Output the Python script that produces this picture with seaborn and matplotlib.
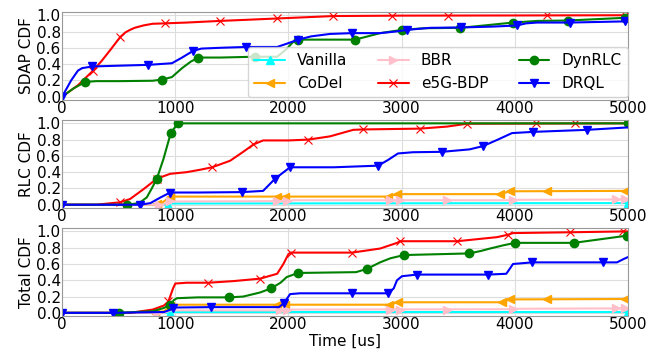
import matplotlib
matplotlib.use("Agg")
import matplotlib.pyplot as plt
from matplotlib.lines import Line2D
import seaborn as sns

# ---------------------------------------------------------------- series
METHODS = ["Vanilla", "CoDel", "BBR", "e5G-BDP", "DynRLC", "DRQL"]
COLORS = ["cyan", "orange", "pink", "red", "green", "blue"]
MARKERS = ["^", "<", ">", "x", "o", "v"]
X_TICKS = [0, 1000, 2000, 3000, 4000, 5000]
Y_TICKS = [0.0, 0.2, 0.4, 0.6, 0.8, 1.0]
PANEL_LABELS = ["SDAP CDF", "RLC CDF", "Total CDF"]

# --- SDAP delay CDF
sdap_e5g_x = [0, 140, 274, 350, 424, 512, 560, 600, 640, 720, 800, 910, 1100, 1395, 1650, 1900, 2150, 2400, 3000, 4000, 5000]
sdap_e5g_y = [0, 0.14, 0.32, 0.44, 0.57, 0.73, 0.79, 0.82, 0.845, 0.875, 0.895, 0.90, 0.91, 0.93, 0.945, 0.96, 0.975, 0.99, 0.995, 0.997, 1.0]
sdap_e5g_mx = [274, 512, 910, 1395, 1900, 2394, 2915, 3410, 4284, 4973]
sdap_e5g_my = [0.32, 0.73, 0.90, 0.93, 0.96, 0.99, 0.995, 0.995, 0.997, 1.0]

sdap_dyn_x = [0, 100, 203, 300, 500, 800, 886, 970, 1060, 1137, 1204, 1400, 1700, 1900, 1980, 2040, 2085, 2300, 2588, 2700, 2810, 3003, 3200, 3516, 3700, 3985, 4200, 4470, 5000]
sdap_dyn_y = [0, 0.10, 0.18, 0.19, 0.19, 0.195, 0.21, 0.24, 0.35, 0.43, 0.48, 0.48, 0.49, 0.49, 0.58, 0.67, 0.70, 0.70, 0.70, 0.74, 0.78, 0.82, 0.84, 0.845, 0.87, 0.91, 0.93, 0.935, 0.97]
sdap_dyn_mx = [203, 886, 1204, 1705, 2085, 2588, 3003, 3516, 3985, 4470, 4973]
sdap_dyn_my = [0.18, 0.21, 0.48, 0.49, 0.70, 0.70, 0.82, 0.845, 0.91, 0.935, 0.97]

sdap_drql_x = [0, 80, 140, 177, 265, 500, 760, 970, 1060, 1155, 1230, 1400, 1625, 1900, 1985, 2085, 2200, 2367, 2562, 2810, 2950, 3047, 3250, 3525, 3800, 3958, 4020, 4100, 4196, 4488, 5000]
sdap_drql_y = [0, 0.20, 0.32, 0.35, 0.37, 0.38, 0.39, 0.41, 0.48, 0.56, 0.59, 0.60, 0.61, 0.61, 0.65, 0.70, 0.74, 0.77, 0.78, 0.78, 0.80, 0.82, 0.845, 0.85, 0.86, 0.87, 0.875, 0.90, 0.91, 0.91, 0.925]
sdap_drql_mx = [0, 265, 760, 1155, 1625, 2085, 2562, 3047, 3525, 4020, 4488, 4973]
sdap_drql_my = [0, 0.37, 0.39, 0.56, 0.61, 0.70, 0.78, 0.82, 0.85, 0.875, 0.91, 0.925]

# --- RLC delay CDF
rlc_van_x = [0, 900, 960, 5000]
rlc_van_y = [0, 0, 0.015, 0.02]
rlc_van_mx = [936, 5000]
rlc_van_my = [0.0, 0.02]

rlc_codel_x = [0, 800, 880, 955, 2880, 2960, 3870, 3958, 5000]
rlc_codel_y = [0, 0, 0.02, 0.10, 0.10, 0.13, 0.13, 0.165, 0.17]
rlc_codel_mx = [837, 955, 1900, 1970, 2880, 2960, 3870, 3958, 4285, 4973]
rlc_codel_my = [0.01, 0.10, 0.10, 0.10, 0.10, 0.13, 0.13, 0.165, 0.165, 0.17]

rlc_bbr_x = [0, 880, 955, 1990, 2050, 3940, 3984, 5000]
rlc_bbr_y = [0, 0, 0.04, 0.045, 0.055, 0.055, 0.06, 0.065]
rlc_bbr_mx = [860, 955, 1900, 1990, 2897, 2986, 3400, 3984, 4894, 4973]
rlc_bbr_my = [0.0, 0.04, 0.045, 0.045, 0.055, 0.055, 0.055, 0.06, 0.065, 0.065]

rlc_e5g_x = [0, 300, 512, 600, 718, 837, 955, 1100, 1220, 1325, 1484, 1600, 1690, 1776, 2000, 2175, 2367, 2572, 2660, 3163, 3400, 3578, 5000]
rlc_e5g_y = [0, 0, 0.03, 0.07, 0.19, 0.32, 0.38, 0.40, 0.43, 0.46, 0.54, 0.65, 0.74, 0.79, 0.79, 0.80, 0.84, 0.92, 0.925, 0.935, 0.96, 0.995, 1.0]
rlc_e5g_mx = [512, 837, 1325, 1690, 2175, 2660, 3163, 3578, 4187, 4532]
rlc_e5g_my = [0.03, 0.32, 0.46, 0.74, 0.80, 0.925, 0.935, 0.995, 1.0, 1.0]

rlc_dyn_x = [0, 573, 680, 748, 792, 837, 895, 960, 1022, 5000]
rlc_dyn_y = [0, 0, 0.02, 0.09, 0.20, 0.32, 0.56, 0.88, 1.0, 1.0]
rlc_dyn_mx = [573, 837, 960, 1022, 5000]
rlc_dyn_my = [0, 0.32, 0.88, 1.0, 1.0]

rlc_drql_x = [0, 689, 780, 870, 955, 1200, 1590, 1776, 1882, 2014, 2400, 2792, 2880, 2968, 3100, 3357, 3600, 3719, 3850, 3975, 4161, 4638, 5000]
rlc_drql_y = [0, 0, 0.02, 0.09, 0.15, 0.15, 0.155, 0.17, 0.32, 0.46, 0.46, 0.48, 0.55, 0.63, 0.645, 0.65, 0.68, 0.72, 0.80, 0.88, 0.895, 0.92, 0.95]
rlc_drql_mx = [0, 689, 955, 1590, 1882, 2014, 2792, 3357, 3719, 4161, 4638]
rlc_drql_my = [0, 0, 0.15, 0.155, 0.32, 0.46, 0.48, 0.65, 0.72, 0.895, 0.92]

# --- total delay CDF
tot_van_x = [0, 940, 1000, 5000]
tot_van_y = [0, 0, 0.01, 0.01]
tot_van_mx = [955, 5000]
tot_van_my = [0.0, 0.01]

tot_codel_x = [0, 780, 900, 972, 1000, 2889, 2968, 3887, 3958, 5000]
tot_codel_y = [0, 0, 0.02, 0.09, 0.10, 0.10, 0.13, 0.13, 0.165, 0.17]
tot_codel_mx = [822, 955, 1900, 1970, 2889, 2968, 3887, 3958, 4285, 4973]
tot_codel_my = [0.0, 0.09, 0.10, 0.10, 0.10, 0.13, 0.13, 0.165, 0.165, 0.17]

tot_bbr_x = [0, 900, 960, 1925, 2000, 3940, 3984, 5000]
tot_bbr_y = [0, 0, 0.03, 0.03, 0.04, 0.045, 0.05, 0.055]
tot_bbr_mx = [837, 1925, 1990, 2897, 2986, 3400, 3984, 4894, 4973]
tot_bbr_my = [0.0, 0.03, 0.035, 0.04, 0.04, 0.04, 0.05, 0.055, 0.055]

tot_e5g_x = [0, 600, 800, 900, 939, 980, 1000, 1100, 1292, 1513, 1749, 1900, 1955, 1999, 2020, 2562, 2810, 2960, 2986, 3490, 3843, 3940, 3984, 4488, 4956, 5000]
tot_e5g_y = [0, 0, 0.04, 0.09, 0.14, 0.30, 0.36, 0.37, 0.37, 0.39, 0.42, 0.48, 0.60, 0.72, 0.74, 0.74, 0.79, 0.86, 0.88, 0.88, 0.93, 0.96, 0.98, 0.99, 1.0, 1.0]
tot_e5g_mx = [939, 1292, 1749, 2020, 2562, 2986, 3490, 3940, 4488, 4956]
tot_e5g_my = [0.14, 0.37, 0.42, 0.74, 0.74, 0.88, 0.88, 0.96, 0.99, 1.0]

tot_dyn_x = [0, 504, 800, 900, 954, 990, 1016, 1200, 1476, 1600, 1749, 1846, 1930, 1985, 2085, 2597, 2694, 2809, 2900, 3021, 3596, 3700, 3781, 3900, 4002, 4523, 5000]
tot_dyn_y = [0, 0, 0.02, 0.06, 0.10, 0.16, 0.18, 0.19, 0.19, 0.20, 0.25, 0.30, 0.37, 0.44, 0.49, 0.50, 0.54, 0.62, 0.67, 0.71, 0.73, 0.76, 0.79, 0.83, 0.86, 0.86, 0.95]
tot_dyn_mx = [504, 954, 1476, 1846, 2085, 2694, 3021, 3596, 4002, 4523, 4991]
tot_dyn_my = [0, 0.10, 0.19, 0.30, 0.49, 0.54, 0.71, 0.73, 0.86, 0.86, 0.95]

tot_drql_x = [0, 450, 900, 960, 981, 1316, 1916, 1961, 2014, 2100, 2880, 2930, 2959, 3003, 3136, 3763, 3925, 3960, 3984, 4152, 4779, 4903, 4960, 5000]
tot_drql_y = [0, 0, 0.01, 0.04, 0.065, 0.07, 0.07, 0.12, 0.23, 0.24, 0.24, 0.30, 0.40, 0.45, 0.47, 0.47, 0.48, 0.55, 0.60, 0.62, 0.62, 0.62, 0.66, 0.685]
tot_drql_mx = [0, 450, 981, 1316, 1961, 2562, 2880, 3136, 3763, 4152, 4779]
tot_drql_my = [0, 0, 0.065, 0.07, 0.12, 0.24, 0.24, 0.47, 0.47, 0.62, 0.62]

# method index -> (line x, line y, marker x, marker y) for each panel
sdap_series = {
    3: (sdap_e5g_x, sdap_e5g_y, sdap_e5g_mx, sdap_e5g_my),
    4: (sdap_dyn_x, sdap_dyn_y, sdap_dyn_mx, sdap_dyn_my),
    5: (sdap_drql_x, sdap_drql_y, sdap_drql_mx, sdap_drql_my),
}
rlc_series = {
    0: (rlc_van_x, rlc_van_y, rlc_van_mx, rlc_van_my),
    1: (rlc_codel_x, rlc_codel_y, rlc_codel_mx, rlc_codel_my),
    2: (rlc_bbr_x, rlc_bbr_y, rlc_bbr_mx, rlc_bbr_my),
    3: (rlc_e5g_x, rlc_e5g_y, rlc_e5g_mx, rlc_e5g_my),
    4: (rlc_dyn_x, rlc_dyn_y, rlc_dyn_mx, rlc_dyn_my),
    5: (rlc_drql_x, rlc_drql_y, rlc_drql_mx, rlc_drql_my),
}
tot_series = {
    0: (tot_van_x, tot_van_y, tot_van_mx, tot_van_my),
    1: (tot_codel_x, tot_codel_y, tot_codel_mx, tot_codel_my),
    2: (tot_bbr_x, tot_bbr_y, tot_bbr_mx, tot_bbr_my),
    3: (tot_e5g_x, tot_e5g_y, tot_e5g_mx, tot_e5g_my),
    4: (tot_dyn_x, tot_dyn_y, tot_dyn_mx, tot_dyn_my),
    5: (tot_drql_x, tot_drql_y, tot_drql_mx, tot_drql_my),
}

# ---------------------------------------------------------------- style
sns.set_style("whitegrid", {"axes.edgecolor": "#999999", "grid.color": "#dddddd",
                            "axes.linewidth": 1.0})
plt.rcParams["font.family"] = ["DejaVu Sans"]
plt.rcParams["font.size"] = 11
plt.rcParams["text.color"] = "black"
plt.rcParams["axes.labelcolor"] = "black"
plt.rcParams["xtick.color"] = "black"
plt.rcParams["ytick.color"] = "black"

fig, axes = plt.subplots(3, 1, figsize=(6.61, 3.52), dpi=100)
fig.subplots_adjust(left=0.094, right=0.950, top=0.966, bottom=0.102, hspace=0.23)


def marker_kw(i):
    if MARKERS[i] == "x":
        return dict(marker="x", markersize=6, markeredgewidth=0.8)
    return dict(marker=MARKERS[i], markersize=6)


for ax, series, ylabel in zip(axes, [sdap_series, rlc_series, tot_series], PANEL_LABELS):
    for i in range(len(METHODS)):
        if i not in series:
            continue
        lx, ly, mx, my = series[i]
        sns.lineplot(x=lx, y=ly, ax=ax, color=COLORS[i], linewidth=1.5,
                     estimator=None, sort=False, legend=False)
        ax.plot(mx, my, linestyle="none", color=COLORS[i], **marker_kw(i))
    ax.set_xlim(0, 5000)
    ax.set_ylim(-0.04, 1.04)
    ax.set_xticks(X_TICKS)
    ax.set_yticks(Y_TICKS)
    ax.set_yticklabels([f"{t:.1f}" for t in Y_TICKS])
    ax.set_ylabel(ylabel, fontsize=11, labelpad=2)
    ax.tick_params(axis="both", labelsize=11, pad=1, length=0)
    ax.set_xlabel("")

axes[2].set_xlabel("Time [us]", fontsize=11, labelpad=1)

handles = [Line2D([], [], color=COLORS[i], linewidth=1.5, **marker_kw(i))
           for i in range(len(METHODS))]
axes[0].legend(handles, METHODS, ncol=3, loc="lower right",
               bbox_to_anchor=(1.0, 0.03), borderaxespad=0.0, fontsize=11,
               framealpha=0.8)

fig.savefig("out.png", dpi=100)
